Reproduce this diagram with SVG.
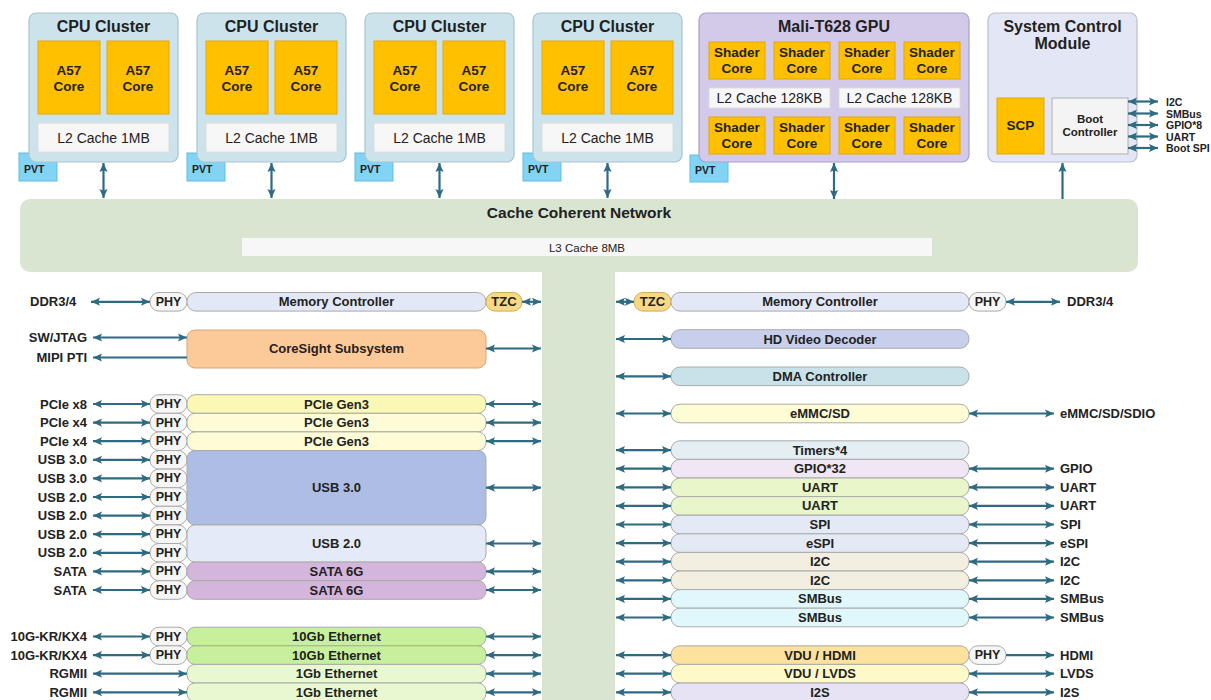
<svg xmlns="http://www.w3.org/2000/svg" width="1211" height="700" viewBox="0 0 1211 700">
<defs>
<marker id="ah" viewBox="0 0 10 10" refX="10" refY="5" markerWidth="9" markerHeight="9" markerUnits="userSpaceOnUse" orient="auto-start-reverse"><path d="M0,0.5 L10,5 L0,9.5 L2,5 z" fill="#2e6b80"/></marker>
<style>
text{font-family:"Liberation Sans",Arial,sans-serif;fill:#222;dominant-baseline:central}
.m{text-anchor:middle}
.e{text-anchor:end}
.bd{font-weight:bold}
.ttl{font-size:16px;font-weight:bold;text-anchor:middle}
.core{font-size:13.5px;font-weight:bold;text-anchor:middle}
.l2{font-size:14px;text-anchor:middle}
.pvt{font-size:10.5px;font-weight:bold}
.sl{font-size:10.5px;font-weight:bold}
.lab{font-size:13px;font-weight:bold}
.ph{font-size:12.5px;font-weight:bold;text-anchor:middle}
.cl{fill:#cde3ec;stroke:#a7c4d0;stroke-width:1.2}
.gpu{fill:#d3c9e9;stroke:#aa9fcc;stroke-width:1.2}
.scm{fill:#e3e7f5;stroke:#b8bfd3;stroke-width:1.2}
.cr{fill:#ffc000;stroke:#e3aa00;stroke-width:1}
.cache{fill:#f7f7f7;stroke:#dcdcdc;stroke-width:1}
.pv{fill:#82d4f4;stroke:#62bce0;stroke-width:1}
.bx{stroke:#aaaaaa;stroke-width:1}
.phy{fill:#f6f6f6;stroke:#aaaaaa;stroke-width:1}
.cb{stroke:#2e6b80;stroke-width:2.2;fill:none;marker-start:url(#ah);marker-end:url(#ah)}
.ce{stroke:#2e6b80;stroke-width:2.2;fill:none;marker-end:url(#ah)}
</style>
</defs>
<rect width="1211" height="700" fill="#ffffff"/>

<!-- Cache coherent network -->
<g id="ccn">
<rect x="542" y="262" width="73" height="445" fill="#d9e4d1"/>
<rect x="20" y="199" width="1118" height="73" rx="10" fill="#d9e4d1"/>
<text x="579" y="212" class="m bd" font-size="15.5">Cache Coherent Network</text>
<rect x="242" y="238" width="690" height="18" fill="#f7f7f7"/>
<text x="587" y="247.5" class="m" font-size="11.5">L3 Cache 8MB</text>
</g>

<!-- CPU clusters -->
<g id="cpu1">
<rect x="19" y="153" width="38" height="28" class="pv"/><text x="24" y="169" class="pvt">PVT</text>
<rect x="29" y="13" width="149" height="149" rx="7" class="cl"/>
<text x="103.5" y="26" class="ttl">CPU Cluster</text>
<rect x="38" y="41" width="62" height="73" class="cr"/><rect x="107" y="41" width="62" height="73" class="cr"/>
<text x="69" y="70" class="core">A57</text><text x="69" y="86" class="core">Core</text>
<text x="138" y="70" class="core">A57</text><text x="138" y="86" class="core">Core</text>
<rect x="38" y="123" width="131" height="29" class="cache"/>
<text x="103.5" y="137.5" class="l2">L2 Cache 1MB</text>
</g>
<g id="cpu2">
<rect x="187" y="153" width="38" height="28" class="pv"/><text x="192" y="169" class="pvt">PVT</text>
<rect x="197" y="13" width="149" height="149" rx="7" class="cl"/>
<text x="271.5" y="26" class="ttl">CPU Cluster</text>
<rect x="206" y="41" width="62" height="73" class="cr"/><rect x="275" y="41" width="62" height="73" class="cr"/>
<text x="237" y="70" class="core">A57</text><text x="237" y="86" class="core">Core</text>
<text x="306" y="70" class="core">A57</text><text x="306" y="86" class="core">Core</text>
<rect x="206" y="123" width="131" height="29" class="cache"/>
<text x="271.5" y="137.5" class="l2">L2 Cache 1MB</text>
</g>
<g id="cpu3">
<rect x="355" y="153" width="38" height="28" class="pv"/><text x="360" y="169" class="pvt">PVT</text>
<rect x="365" y="13" width="149" height="149" rx="7" class="cl"/>
<text x="439.5" y="26" class="ttl">CPU Cluster</text>
<rect x="374" y="41" width="62" height="73" class="cr"/><rect x="443" y="41" width="62" height="73" class="cr"/>
<text x="405" y="70" class="core">A57</text><text x="405" y="86" class="core">Core</text>
<text x="474" y="70" class="core">A57</text><text x="474" y="86" class="core">Core</text>
<rect x="374" y="123" width="131" height="29" class="cache"/>
<text x="439.5" y="137.5" class="l2">L2 Cache 1MB</text>
</g>
<g id="cpu4">
<rect x="523" y="153" width="38" height="28" class="pv"/><text x="528" y="169" class="pvt">PVT</text>
<rect x="533" y="13" width="149" height="149" rx="7" class="cl"/>
<text x="607.5" y="26" class="ttl">CPU Cluster</text>
<rect x="542" y="41" width="62" height="73" class="cr"/><rect x="611" y="41" width="62" height="73" class="cr"/>
<text x="573" y="70" class="core">A57</text><text x="573" y="86" class="core">Core</text>
<text x="642" y="70" class="core">A57</text><text x="642" y="86" class="core">Core</text>
<rect x="542" y="123" width="131" height="29" class="cache"/>
<text x="607.5" y="137.5" class="l2">L2 Cache 1MB</text>
</g>

<!-- GPU -->
<g id="gpu">
<rect x="690" y="155" width="38" height="27" class="pv"/><text x="695" y="170" class="pvt">PVT</text>
<rect x="699" y="13" width="270" height="149" rx="7" class="gpu"/>
<text x="834" y="26" class="ttl">Mali-T628 GPU</text>
<rect x="709" y="42" width="56" height="37" class="cr"/><rect x="774" y="42" width="56" height="37" class="cr"/>
<rect x="839" y="42" width="56" height="37" class="cr"/><rect x="904" y="42" width="56" height="37" class="cr"/>
<text x="737" y="52.5" class="core">Shader</text><text x="737" y="68" class="core">Core</text>
<text x="802" y="52.5" class="core">Shader</text><text x="802" y="68" class="core">Core</text>
<text x="867" y="52.5" class="core">Shader</text><text x="867" y="68" class="core">Core</text>
<text x="932" y="52.5" class="core">Shader</text><text x="932" y="68" class="core">Core</text>
<rect x="709" y="88" width="121" height="20" class="cache"/><rect x="839" y="88" width="121" height="20" class="cache"/>
<text x="769.5" y="98" class="l2">L2 Cache 128KB</text><text x="899.5" y="98" class="l2">L2 Cache 128KB</text>
<rect x="709" y="117" width="56" height="37" class="cr"/><rect x="774" y="117" width="56" height="37" class="cr"/>
<rect x="839" y="117" width="56" height="37" class="cr"/><rect x="904" y="117" width="56" height="37" class="cr"/>
<text x="737" y="127.5" class="core">Shader</text><text x="737" y="143" class="core">Core</text>
<text x="802" y="127.5" class="core">Shader</text><text x="802" y="143" class="core">Core</text>
<text x="867" y="127.5" class="core">Shader</text><text x="867" y="143" class="core">Core</text>
<text x="932" y="127.5" class="core">Shader</text><text x="932" y="143" class="core">Core</text>
</g>

<!-- System control module -->
<g id="scm">
<rect x="988" y="13" width="149" height="149" rx="7" class="scm"/>
<text x="1062.5" y="26" class="ttl">System Control</text>
<text x="1062.5" y="43.5" class="ttl">Module</text>
<rect x="997" y="98" width="47" height="56" class="cr"/>
<text x="1020.5" y="125" class="core">SCP</text>
<rect x="1052" y="98" width="76" height="56" fill="#f4f4f4" stroke="#b0b0b0" stroke-width="1"/>
<text x="1090" y="118.5" class="m bd" font-size="11.5">Boot</text>
<text x="1090" y="132" class="m bd" font-size="11.5">Controller</text>
<text x="1166" y="101.5" class="sl">I2C</text>
<text x="1166" y="113.5" class="sl">SMBus</text>
<text x="1166" y="125" class="sl">GPIO*8</text>
<text x="1166" y="136.5" class="sl">UART</text>
<text x="1166" y="148" class="sl">Boot SPI</text>
</g>

<!-- Left column -->
<g id="left-mem">
<text x="30" y="301.5" class="lab">DDR3/4</text>
<rect x="150" y="292.5" width="37" height="18.6" rx="9" class="phy"/><text x="168.5" y="301.8" class="ph">PHY</text>
<rect x="187" y="292.5" width="299" height="18.6" rx="9" fill="#e3e8f6" class="bx"/><text x="336.5" y="301.8" class="m lab">Memory Controller</text>
<rect x="486" y="292.5" width="36" height="18.6" rx="9" fill="#f8d885" stroke="#cfae5a" stroke-width="1"/><text x="504" y="301.8" class="m lab">TZC</text>
</g>
<g id="coresight">
<text x="87" y="337.5" class="e lab">SW/JTAG</text>
<text x="87" y="357.5" class="e lab">MIPI PTI</text>
<rect x="187" y="330" width="299" height="38" rx="8" fill="#fcc998" stroke="#d7a57a" stroke-width="1"/>
<text x="336.5" y="348.5" class="m lab">CoreSight Subsystem</text>
</g>

<g id="pcie1">
<text x="87" y="404" class="e lab">PCIe x8</text>
<rect x="150" y="394.7" width="37" height="18.6" rx="9" class="phy"/><text x="168.5" y="404" class="ph">PHY</text>
<rect x="187" y="394.7" width="299" height="18.6" rx="8" fill="#fbf8b3" class="bx"/><text x="336.5" y="404" class="m lab">PCIe Gen3</text>
</g>
<g id="pcie2">
<text x="87" y="422.6" class="e lab">PCIe x4</text>
<rect x="150" y="413.3" width="37" height="18.6" rx="9" class="phy"/><text x="168.5" y="422.6" class="ph">PHY</text>
<rect x="187" y="413.3" width="299" height="18.6" rx="8" fill="#fdfcd6" class="bx"/><text x="336.5" y="422.6" class="m lab">PCIe Gen3</text>
</g>
<g id="pcie3">
<text x="87" y="441.2" class="e lab">PCIe x4</text>
<rect x="150" y="431.9" width="37" height="18.6" rx="9" class="phy"/><text x="168.5" y="441.2" class="ph">PHY</text>
<rect x="187" y="431.9" width="299" height="18.6" rx="8" fill="#fdfcd6" class="bx"/><text x="336.5" y="441.2" class="m lab">PCIe Gen3</text>
</g>
<g id="usb3">
<text x="87" y="459.8" class="e lab">USB 3.0</text>
<text x="87" y="478.4" class="e lab">USB 3.0</text>
<text x="87" y="497" class="e lab">USB 2.0</text>
<text x="87" y="515.6" class="e lab">USB 2.0</text>
<rect x="150" y="450.5" width="37" height="18.6" rx="9" class="phy"/><text x="168.5" y="459.8" class="ph">PHY</text>
<rect x="150" y="469.1" width="37" height="18.6" rx="9" class="phy"/><text x="168.5" y="478.4" class="ph">PHY</text>
<rect x="150" y="487.7" width="37" height="18.6" rx="9" class="phy"/><text x="168.5" y="497" class="ph">PHY</text>
<rect x="150" y="506.3" width="37" height="18.6" rx="9" class="phy"/><text x="168.5" y="515.6" class="ph">PHY</text>
<rect x="187" y="450.5" width="299" height="74.4" rx="8" fill="#adbde3" class="bx"/><text x="336.5" y="487.7" class="m lab">USB 3.0</text>
</g>
<g id="usb2">
<text x="87" y="534.2" class="e lab">USB 2.0</text>
<text x="87" y="552.8" class="e lab">USB 2.0</text>
<rect x="150" y="524.9" width="37" height="18.6" rx="9" class="phy"/><text x="168.5" y="534.2" class="ph">PHY</text>
<rect x="150" y="543.5" width="37" height="18.6" rx="9" class="phy"/><text x="168.5" y="552.8" class="ph">PHY</text>
<rect x="187" y="524.9" width="299" height="37.2" rx="8" fill="#e4eaf7" class="bx"/><text x="336.5" y="543.5" class="m lab">USB 2.0</text>
</g>
<g id="sata1">
<text x="87" y="571.4" class="e lab">SATA</text>
<rect x="150" y="562.1" width="37" height="18.6" rx="9" class="phy"/><text x="168.5" y="571.4" class="ph">PHY</text>
<rect x="187" y="562.1" width="299" height="18.6" rx="8" fill="#d4b5dc" class="bx"/><text x="336.5" y="571.4" class="m lab">SATA 6G</text>
</g>
<g id="sata2">
<text x="87" y="590" class="e lab">SATA</text>
<rect x="150" y="580.7" width="37" height="18.6" rx="9" class="phy"/><text x="168.5" y="590" class="ph">PHY</text>
<rect x="187" y="580.7" width="299" height="18.6" rx="8" fill="#d4b5dc" class="bx"/><text x="336.5" y="590" class="m lab">SATA 6G</text>
</g>
<g id="eth10g1">
<text x="87" y="636.5" class="e lab">10G-KR/KX4</text>
<rect x="150" y="627.2" width="37" height="18.6" rx="9" class="phy"/><text x="168.5" y="636.5" class="ph">PHY</text>
<rect x="187" y="627.2" width="299" height="18.6" rx="8" fill="#c6f09c" class="bx"/><text x="336.5" y="636.5" class="m lab">10Gb Ethernet</text>
</g>
<g id="eth10g2">
<text x="87" y="655.1" class="e lab">10G-KR/KX4</text>
<rect x="150" y="645.8" width="37" height="18.6" rx="9" class="phy"/><text x="168.5" y="655.1" class="ph">PHY</text>
<rect x="187" y="645.8" width="299" height="18.6" rx="8" fill="#c6f09c" class="bx"/><text x="336.5" y="655.1" class="m lab">10Gb Ethernet</text>
</g>
<g id="eth1g1">
<text x="87" y="673.7" class="e lab">RGMII</text>
<rect x="187" y="664.4" width="299" height="18.6" rx="8" fill="#e8f9d2" class="bx"/><text x="336.5" y="673.7" class="m lab">1Gb Ethernet</text>
</g>
<g id="eth1g2">
<text x="87" y="692.3" class="e lab">RGMII</text>
<rect x="187" y="683" width="299" height="18.6" rx="8" fill="#e8f9d2" class="bx"/><text x="336.5" y="692.3" class="m lab">1Gb Ethernet</text>
</g>

<!-- Right column -->
<g id="right-mem">
<rect x="634" y="292.5" width="37" height="18.6" rx="9" fill="#f8d885" stroke="#cfae5a" stroke-width="1"/><text x="652.5" y="301.8" class="m lab">TZC</text>
<rect x="671" y="292.5" width="298" height="18.6" rx="9" fill="#e3e8f6" class="bx"/><text x="820" y="301.8" class="m lab">Memory Controller</text>
<rect x="969" y="292.5" width="37" height="18.6" rx="9" class="phy"/><text x="987.5" y="301.8" class="ph">PHY</text>
<text x="1067" y="301.8" class="lab">DDR3/4</text>
</g>
<g id="video"><rect x="671" y="329.7" width="298" height="18.6" rx="9" fill="#c8cfed" class="bx"/><text x="820" y="339" class="m lab">HD Video Decoder</text></g>
<g id="dma"><rect x="671" y="367" width="298" height="18.6" rx="9" fill="#c9e2ea" class="bx"/><text x="820" y="376.3" class="m lab">DMA Controller</text></g>
<g id="emmc"><rect x="671" y="404.2" width="298" height="18.6" rx="9" fill="#fefcd5" class="bx"/><text x="820" y="413.5" class="m lab">eMMC/SD</text><text x="1060" y="413.5" class="lab">eMMC/SD/SDIO</text></g>
<g id="timers"><rect x="671" y="440.8" width="298" height="18.6" rx="9" fill="#e4eef3" class="bx"/><text x="820" y="450.1" class="m lab">Timers*4</text></g>
<g id="gpio"><rect x="671" y="459.4" width="298" height="18.6" rx="9" fill="#f1e6f4" class="bx"/><text x="820" y="468.7" class="m lab">GPIO*32</text><text x="1060" y="468.7" class="lab">GPIO</text></g>
<g id="uart1"><rect x="671" y="478" width="298" height="18.6" rx="9" fill="#e8f6c9" class="bx"/><text x="820" y="487.3" class="m lab">UART</text><text x="1060" y="487.3" class="lab">UART</text></g>
<g id="uart2"><rect x="671" y="496.6" width="298" height="18.6" rx="9" fill="#e8f6c9" class="bx"/><text x="820" y="505.9" class="m lab">UART</text><text x="1060" y="505.9" class="lab">UART</text></g>
<g id="spi"><rect x="671" y="515.2" width="298" height="18.6" rx="9" fill="#e4e9f6" class="bx"/><text x="820" y="524.5" class="m lab">SPI</text><text x="1060" y="524.5" class="lab">SPI</text></g>
<g id="espi"><rect x="671" y="533.8" width="298" height="18.6" rx="9" fill="#e4e9f6" class="bx"/><text x="820" y="543.1" class="m lab">eSPI</text><text x="1060" y="543.1" class="lab">eSPI</text></g>
<g id="i2c1"><rect x="671" y="552.4" width="298" height="18.6" rx="9" fill="#f2eee0" class="bx"/><text x="820" y="561.7" class="m lab">I2C</text><text x="1060" y="561.7" class="lab">I2C</text></g>
<g id="i2c2"><rect x="671" y="571" width="298" height="18.6" rx="9" fill="#f2eee0" class="bx"/><text x="820" y="580.3" class="m lab">I2C</text><text x="1060" y="580.3" class="lab">I2C</text></g>
<g id="smbus1"><rect x="671" y="589.6" width="298" height="18.6" rx="9" fill="#e0f8fb" class="bx"/><text x="820" y="598.9" class="m lab">SMBus</text><text x="1060" y="598.9" class="lab">SMBus</text></g>
<g id="smbus2"><rect x="671" y="608.2" width="298" height="18.6" rx="9" fill="#e0f8fb" class="bx"/><text x="820" y="617.5" class="m lab">SMBus</text><text x="1060" y="617.5" class="lab">SMBus</text></g>
<g id="hdmi"><rect x="671" y="645.8" width="298" height="18.6" rx="9" fill="#fde29e" class="bx"/><text x="820" y="655.1" class="m lab">VDU / HDMI</text>
<rect x="969" y="645.8" width="37" height="18.6" rx="9" class="phy"/><text x="987.5" y="655.1" class="ph">PHY</text><text x="1060" y="655.1" class="lab">HDMI</text></g>
<g id="lvds"><rect x="671" y="664.4" width="298" height="18.6" rx="9" fill="#fdf9c9" class="bx"/><text x="820" y="673.7" class="m lab">VDU / LVDS</text><text x="1060" y="673.7" class="lab">LVDS</text></g>
<g id="i2s"><rect x="671" y="683" width="298" height="18.6" rx="9" fill="#e7e2f4" class="bx"/><text x="820" y="692.3" class="m lab">I2S</text><text x="1060" y="692.3" class="lab">I2S</text></g>

<!-- Connectors -->
<g id="connectors">
<line x1="103.5" y1="163" x2="103.5" y2="198" class="cb"/>
<line x1="271.5" y1="163" x2="271.5" y2="198" class="cb"/>
<line x1="439.5" y1="163" x2="439.5" y2="198" class="cb"/>
<line x1="607.5" y1="163" x2="607.5" y2="198" class="cb"/>
<line x1="834" y1="163" x2="834" y2="199" class="cb"/>
<line x1="1062.5" y1="199" x2="1062.5" y2="163" class="ce"/>
<line x1="1128" y1="101.5" x2="1158" y2="101.5" class="cb"/>
<line x1="1128" y1="113.5" x2="1158" y2="113.5" class="cb"/>
<line x1="1128" y1="125" x2="1158" y2="125" class="cb"/>
<line x1="1128" y1="136.5" x2="1158" y2="136.5" class="cb"/>
<line x1="1128" y1="148" x2="1158" y2="148" class="cb"/>

<line x1="91" y1="301.8" x2="150" y2="301.8" class="cb"/>
<line x1="522" y1="301.8" x2="541" y2="301.8" class="cb"/>
<line x1="93" y1="337.5" x2="187" y2="337.5" class="cb"/>
<line x1="187" y1="357.5" x2="93" y2="357.5" class="ce"/>
<line x1="486" y1="348.5" x2="541" y2="348.5" class="cb"/>
<line x1="93" y1="404" x2="150" y2="404" class="cb"/><line x1="486" y1="404" x2="541" y2="404" class="cb"/>
<line x1="93" y1="422.6" x2="150" y2="422.6" class="cb"/><line x1="486" y1="422.6" x2="541" y2="422.6" class="cb"/>
<line x1="93" y1="441.2" x2="150" y2="441.2" class="cb"/><line x1="486" y1="441.2" x2="541" y2="441.2" class="cb"/>
<line x1="93" y1="459.8" x2="150" y2="459.8" class="cb"/>
<line x1="93" y1="478.4" x2="150" y2="478.4" class="cb"/>
<line x1="93" y1="497" x2="150" y2="497" class="cb"/>
<line x1="93" y1="515.6" x2="150" y2="515.6" class="cb"/>
<line x1="486" y1="487.7" x2="541" y2="487.7" class="cb"/>
<line x1="93" y1="534.2" x2="150" y2="534.2" class="cb"/>
<line x1="93" y1="552.8" x2="150" y2="552.8" class="cb"/>
<line x1="486" y1="543.5" x2="541" y2="543.5" class="cb"/>
<line x1="93" y1="571.4" x2="150" y2="571.4" class="cb"/><line x1="486" y1="571.4" x2="541" y2="571.4" class="cb"/>
<line x1="93" y1="590" x2="150" y2="590" class="cb"/><line x1="486" y1="590" x2="541" y2="590" class="cb"/>
<line x1="93" y1="636.5" x2="150" y2="636.5" class="cb"/><line x1="486" y1="636.5" x2="541" y2="636.5" class="cb"/>
<line x1="93" y1="655.1" x2="150" y2="655.1" class="cb"/><line x1="486" y1="655.1" x2="541" y2="655.1" class="cb"/>
<line x1="93" y1="673.7" x2="187" y2="673.7" class="cb"/><line x1="486" y1="673.7" x2="541" y2="673.7" class="cb"/>
<line x1="93" y1="692.3" x2="187" y2="692.3" class="cb"/><line x1="486" y1="692.3" x2="541" y2="692.3" class="cb"/>

<line x1="616" y1="301.8" x2="634" y2="301.8" class="cb"/>
<line x1="1006" y1="301.8" x2="1060" y2="301.8" class="cb"/>
<line x1="616" y1="339" x2="671" y2="339" class="cb"/>
<line x1="616" y1="376.3" x2="671" y2="376.3" class="cb"/>
<line x1="616" y1="413.5" x2="671" y2="413.5" class="cb"/><line x1="969" y1="413.5" x2="1054" y2="413.5" class="cb"/>
<line x1="616" y1="450.1" x2="671" y2="450.1" class="cb"/>
<line x1="616" y1="468.7" x2="671" y2="468.7" class="cb"/><line x1="969" y1="468.7" x2="1054" y2="468.7" class="cb"/>
<line x1="616" y1="487.3" x2="671" y2="487.3" class="cb"/><line x1="969" y1="487.3" x2="1054" y2="487.3" class="cb"/>
<line x1="616" y1="505.9" x2="671" y2="505.9" class="cb"/><line x1="969" y1="505.9" x2="1054" y2="505.9" class="cb"/>
<line x1="616" y1="524.5" x2="671" y2="524.5" class="cb"/><line x1="969" y1="524.5" x2="1054" y2="524.5" class="cb"/>
<line x1="616" y1="543.1" x2="671" y2="543.1" class="cb"/><line x1="969" y1="543.1" x2="1054" y2="543.1" class="cb"/>
<line x1="616" y1="561.7" x2="671" y2="561.7" class="cb"/><line x1="969" y1="561.7" x2="1054" y2="561.7" class="cb"/>
<line x1="616" y1="580.3" x2="671" y2="580.3" class="cb"/><line x1="969" y1="580.3" x2="1054" y2="580.3" class="cb"/>
<line x1="616" y1="598.9" x2="671" y2="598.9" class="cb"/><line x1="969" y1="598.9" x2="1054" y2="598.9" class="cb"/>
<line x1="616" y1="617.5" x2="671" y2="617.5" class="cb"/><line x1="969" y1="617.5" x2="1054" y2="617.5" class="cb"/>
<line x1="616" y1="655.1" x2="671" y2="655.1" class="cb"/><line x1="1006" y1="655.1" x2="1054" y2="655.1" class="ce"/>
<line x1="616" y1="673.7" x2="671" y2="673.7" class="cb"/><line x1="969" y1="673.7" x2="1054" y2="673.7" class="cb"/>
<line x1="616" y1="692.3" x2="671" y2="692.3" class="cb"/><line x1="969" y1="692.3" x2="1054" y2="692.3" class="cb"/>
</g>
</svg>
